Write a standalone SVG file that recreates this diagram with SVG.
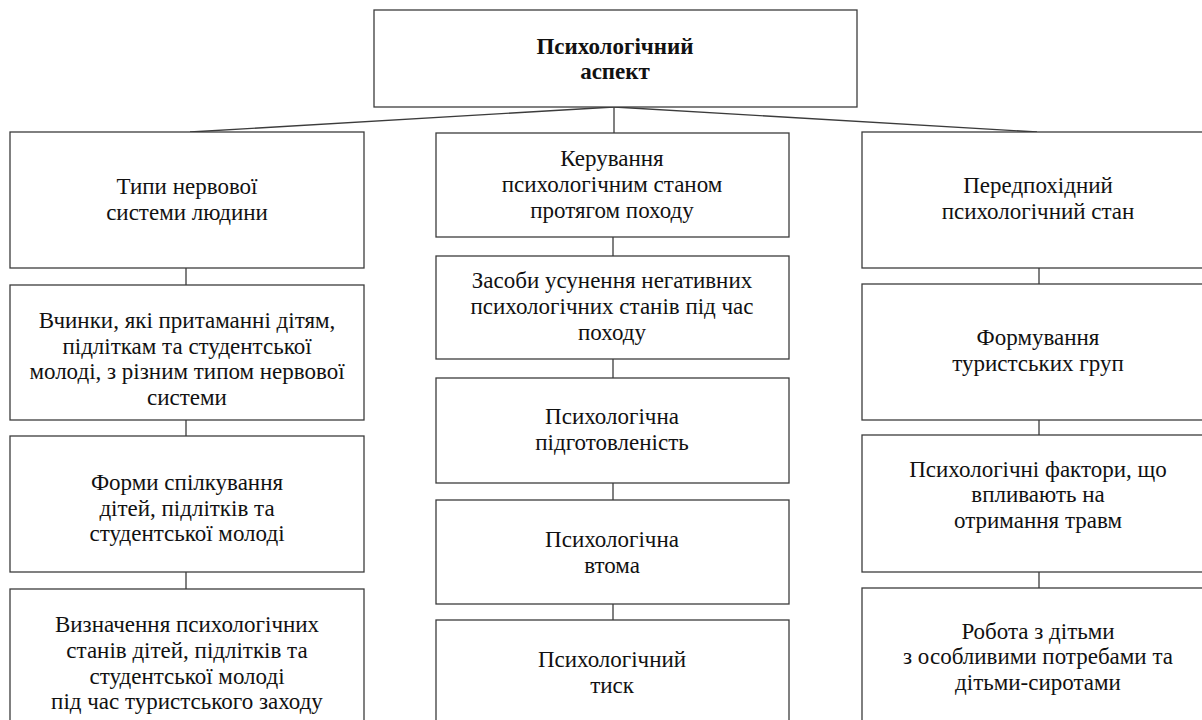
<svg xmlns="http://www.w3.org/2000/svg" width="1202" height="720" viewBox="0 0 1202 720">
<style>
.b{fill:#fff;stroke:#3c3c3c;stroke-width:1.3}
.c{stroke:#3c3c3c;stroke-width:1.3;fill:none}
text{font-family:"Liberation Serif","Times New Roman",serif;font-size:23px;fill:#111;text-anchor:middle}
.bold{font-weight:bold}
</style>
<rect width="1202" height="720" fill="#fff"/>
<g id="connectors">
<line class="c" x1="614" y1="107" x2="190" y2="132"/>
<line class="c" x1="614" y1="107" x2="1037" y2="132"/>
<line class="c" x1="614" y1="107" x2="614" y2="133"/>
<line class="c" x1="186" y1="268" x2="186" y2="285"/>
<line class="c" x1="186" y1="420" x2="186" y2="436"/>
<line class="c" x1="186" y1="572" x2="186" y2="589"/>
<line class="c" x1="613" y1="237" x2="613" y2="256"/>
<line class="c" x1="613" y1="359" x2="613" y2="378"/>
<line class="c" x1="613" y1="483" x2="613" y2="500"/>
<line class="c" x1="613" y1="604" x2="613" y2="620"/>
<line class="c" x1="1039" y1="268" x2="1039" y2="284"/>
<line class="c" x1="1039" y1="420" x2="1039" y2="435"/>
<line class="c" x1="1039" y1="572" x2="1039" y2="588"/>
</g>
<g id="root">
<rect class="b" x="374" y="10" width="483" height="97"/>
<text class="bold" x="615" y="54">Психологічний</text>
<text class="bold" x="615" y="79">аспект</text>
</g>
<g id="l1">
<rect class="b" x="10" y="132" width="354" height="136"/>
<text x="187" y="194">Типи нервової</text>
<text x="187" y="220">системи людини</text>
</g>
<g id="l2">
<rect class="b" x="10" y="285" width="354" height="135"/>
<text x="187" y="328">Вчинки, які притаманні дітям,</text>
<text x="187" y="354">підліткам та студентської</text>
<text x="187" y="379">молоді, з різним типом нервової</text>
<text x="187" y="405">системи</text>
</g>
<g id="l3">
<rect class="b" x="10" y="436" width="354" height="136"/>
<text x="187" y="490">Форми спілкування</text>
<text x="187" y="516">дітей, підлітків та</text>
<text x="187" y="541">студентської молоді</text>
</g>
<g id="l4">
<rect class="b" x="10" y="589" width="354" height="140"/>
<text x="187" y="632">Визначення психологічних</text>
<text x="187" y="658">станів дітей, підлітків та</text>
<text x="187" y="684">студентської молоді</text>
<text x="187" y="709">під час туристського заходу</text>
</g>
<g id="m1">
<rect class="b" x="436" y="133" width="353" height="104"/>
<text x="612" y="166">Керування</text>
<text x="612" y="192">психологічним станом</text>
<text x="612" y="218">протягом походу</text>
</g>
<g id="m2">
<rect class="b" x="436" y="256" width="353" height="103"/>
<text x="612" y="288">Засоби усунення негативних</text>
<text x="612" y="314">психологічних станів під час</text>
<text x="612" y="340">походу</text>
</g>
<g id="m3">
<rect class="b" x="436" y="378" width="353" height="105"/>
<text x="612" y="424">Психологічна</text>
<text x="612" y="450">підготовленість</text>
</g>
<g id="m4">
<rect class="b" x="436" y="500" width="353" height="104"/>
<text x="612" y="547">Психологічна</text>
<text x="612" y="573">втома</text>
</g>
<g id="m5">
<rect class="b" x="436" y="620" width="353" height="110"/>
<text x="612" y="667">Психологічний</text>
<text x="612" y="693">тиск</text>
</g>
<g id="r1">
<rect class="b" x="862" y="132" width="354" height="136"/>
<text x="1038" y="193">Передпохідний</text>
<text x="1038" y="219">психологічний стан</text>
</g>
<g id="r2">
<rect class="b" x="862" y="284" width="354" height="136"/>
<text x="1038" y="345">Формування</text>
<text x="1038" y="371">туристських груп</text>
</g>
<g id="r3">
<rect class="b" x="862" y="435" width="354" height="137"/>
<text x="1038" y="477">Психологічні фактори, що</text>
<text x="1038" y="502">впливають на</text>
<text x="1038" y="528">отримання травм</text>
</g>
<g id="r4">
<rect class="b" x="862" y="588" width="354" height="140"/>
<text x="1038" y="639">Робота з дітьми</text>
<text x="1038" y="664">з особливими потребами та</text>
<text x="1038" y="690">дітьми-сиротами</text>
</g>
</svg>
